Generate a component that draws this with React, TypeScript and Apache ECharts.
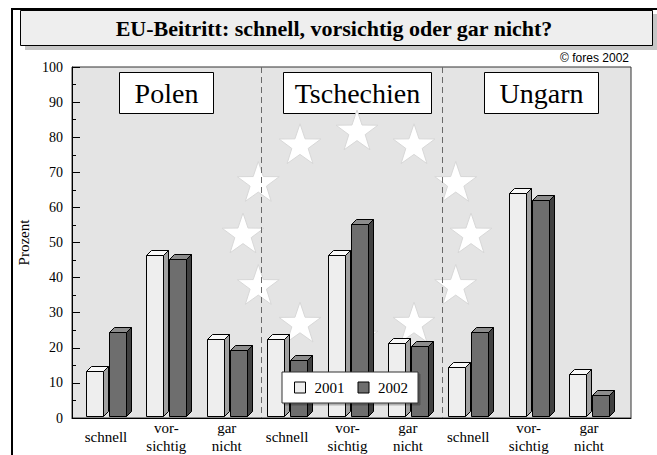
import React, { useEffect, useRef } from "react";
import * as echarts from "echarts";

// ---- data ----
const countries = ["Polen", "Tschechien", "Ungarn"];
const categories = [
  "schnell", "vor-\nsichtig", "gar\nnicht",
  "schnell", "vor-\nsichtig", "gar\nnicht",
  "schnell", "vor-\nsichtig", "gar\nnicht",
];
const seriesNames = ["2001", "2002"];
const values2001 = [13, 46, 22, 22, 46, 21, 14, 64, 12];
const values2002 = [24, 45, 19, 16, 55, 20, 24, 62, 6];
const yMin = 0;
const yMax = 100;
const yInterval = 10;
const titleText = "EU-Beitritt: schnell, vorsichtig oder gar nicht?";
const copyrightText = "© fores 2002";
const yAxisName = "Prozent";

const SERIF = '"Liberation Serif", "Times New Roman", serif';
const SANS = '"Liberation Sans", Arial, sans-serif';

function make3DBar(side: number, front: string, top: string, dark: string) {
  return (params: any, api: any) => {
    const idx = api.value(0);
    const val = api.value(1);
    const base = api.coord([idx, 0]);
    const peak = api.coord([idx, val]);
    const cx = base[0];
    const x0 = Math.round(side < 0 ? cx - 20 : cx + 3) + 0.5;
    const x1 = x0 + 17;
    const yb = Math.round(base[1]) + 0.5;
    const yt = Math.round(peak[1]) + 0.5;
    const d = 5;
    const st = { stroke: "#000", lineWidth: 1, lineJoin: "round" };
    return {
      type: "group",
      children: [
        {
          type: "polygon",
          shape: { points: [[x1, yb], [x1, yt], [x1 + d, yt - d], [x1 + d, yb - d]] },
          style: { fill: dark, ...st },
        },
        {
          type: "polygon",
          shape: { points: [[x0, yt], [x0 + d, yt - d], [x1 + d, yt - d], [x1, yt]] },
          style: { fill: top, ...st },
        },
        {
          type: "rect",
          shape: { x: x0, y: yt, width: x1 - x0, height: yb - yt },
          style: { fill: front, ...st },
        },
      ],
    };
  };
}

function starPoints(cx: number, cy: number, R: number, r: number) {
  const pts: number[][] = [];
  for (let k = 0; k < 10; k++) {
    const a = -Math.PI / 2 + (k * Math.PI) / 5;
    const rad = k % 2 === 0 ? R : r;
    pts.push([cx + rad * Math.cos(a), cy + rad * Math.sin(a)]);
  }
  return pts;
}

export default function App() {
  const ref = useRef<HTMLDivElement>(null);

  useEffect(() => {
    if (!ref.current) return;
    const chart = echarts.init(ref.current, undefined, { renderer: "svg" });

    // decorative EU star ring
    const stars: any[] = [];
    for (let k = 0; k < 12; k++) {
      const a = (k * Math.PI) / 6;
      const sx = 357 + 114 * Math.sin(a);
      const sy = 235 - 103 * Math.cos(a);
      stars.push({
        type: "polygon",
        z: 1,
        silent: true,
        shape: { points: starPoints(sx, sy, 22, 8.6) },
        style: { fill: "#ffffff", stroke: "#d8d8d8", lineWidth: 1 },
      });
    }

    const panelBoxes = [
      { x: 119, w: 94 },
      { x: 283, w: 148 },
      { x: 484, w: 114 },
    ];
    const panels: any[] = [];
    countries.forEach((c, i) => {
      const b = panelBoxes[i];
      panels.push({
        type: "rect",
        silent: true,
        shape: { x: b.x + 0.5, y: 72.5, width: b.w, height: 41 },
        style: { fill: "#ffffff", stroke: "#000", lineWidth: 1 },
      });
      panels.push({
        type: "text",
        silent: true,
        style: {
          x: b.x + b.w / 2 + 0.5,
          y: 93,
          text: c,
          fontSize: 28,
          fontFamily: SERIF,
          fill: "#000",
          align: "center",
          verticalAlign: "middle",
          textAlign: "center",
          textVerticalAlign: "middle",
        },
      });
    });

    const dashed = [261.5, 442.5].map((x) => ({
      type: "line",
      z: 1,
      silent: true,
      shape: { x1: x, y1: 67, x2: x, y2: 418 },
      style: { stroke: "#6a6a6a", lineWidth: 1, lineDash: [6, 4] },
    }));

    const option: any = {
      animation: false,
      grid: [
        {
          left: 72,
          top: 67,
          right: 26,
          bottom: 37,
          show: true,
          backgroundColor: "#e4e4e4",
          borderColor: "#333",
          borderWidth: 1,
        },
        { left: 75.8, top: 67, width: 543.4, bottom: 37 },
      ],
      xAxis: [
        {
          gridIndex: 0,
          type: "value",
          min: 0,
          max: 1,
          axisLine: { show: true, lineStyle: { color: "#000", width: 1 } },
          axisTick: { show: false },
          axisLabel: { show: false },
          splitLine: { show: false },
        },
        {
          gridIndex: 1,
          type: "category",
          data: categories,
          axisLine: { show: false },
          axisTick: { show: false },
          splitLine: { show: false },
          axisLabel: {
            interval: 0,
            fontFamily: SERIF,
            fontSize: 15,
            lineHeight: 18,
            color: "#000",
            margin: 21,
            verticalAlign: "middle",
          },
        },
      ],
      yAxis: [
        {
          gridIndex: 0,
          type: "value",
          min: yMin,
          max: yMax,
          interval: yInterval,
          name: yAxisName,
          nameLocation: "middle",
          nameGap: 33,
          nameRotate: 90,
          nameTextStyle: { fontFamily: SERIF, fontSize: 15, color: "#000" },
          axisLine: { show: true, lineStyle: { color: "#000", width: 1 } },
          axisTick: { show: true, inside: true, length: 8, lineStyle: { color: "#000" } },
          minorTick: { show: true, splitNumber: 2, length: 4, lineStyle: { color: "#000" } },
          axisLabel: { fontFamily: SERIF, fontSize: 14, color: "#000", margin: 9 },
          splitLine: { show: false },
        },
        { gridIndex: 1, type: "value", min: yMin, max: yMax, show: false },
      ],
      legend: {
        left: 282,
        top: 372,
        orient: "horizontal",
        icon: "rect",
        itemWidth: 11,
        itemHeight: 11,
        itemGap: 13,
        padding: [8, 10, 8, 12],
        backgroundColor: "#ffffff",
        borderColor: "#333",
        borderWidth: 1,
        shadowColor: "rgba(0,0,0,0.25)",
        shadowOffsetX: 2,
        shadowOffsetY: 2,
        shadowBlur: 0,
        itemStyle: { borderColor: "#000", borderWidth: 1 },
        textStyle: { fontFamily: SERIF, fontSize: 15, color: "#000", padding: [0, 0, 0, 4] },
        data: seriesNames,
      },
      graphic: [
        {
          type: "polyline",
          silent: true,
          shape: { points: [[12, 470], [12, 9], [680, 9]] },
          style: { stroke: "#000", lineWidth: 2, fill: null },
        },
        {
          type: "rect",
          silent: true,
          shape: { x: 25, y: 14, width: 632, height: 36 },
          style: { fill: "#c6c6c6" },
        },
        {
          type: "rect",
          silent: true,
          shape: { x: 20.5, y: 10.5, width: 632, height: 35 },
          style: { fill: "#eeeeee", stroke: "#000", lineWidth: 1 },
        },
        {
          type: "text",
          silent: true,
          style: {
            x: 334,
            y: 28,
            text: titleText,
            fontSize: 22,
            fontWeight: "bold",
            fontFamily: SERIF,
            fill: "#000",
            align: "center",
            verticalAlign: "middle",
            textAlign: "center",
            textVerticalAlign: "middle",
          },
        },
        {
          type: "text",
          silent: true,
          style: {
            x: 629,
            y: 58,
            text: copyrightText,
            fontSize: 12,
            fontFamily: SANS,
            fill: "#000",
            align: "right",
            verticalAlign: "middle",
            textAlign: "right",
            textVerticalAlign: "middle",
          },
        },
        ...stars,
        ...dashed,
        ...panels,
      ],
      series: [
        {
          type: "custom",
          name: seriesNames[0],
          xAxisIndex: 1,
          yAxisIndex: 1,
          renderItem: make3DBar(-1, "#eeeeee", "#f9f9f9", "#a0a0a0"),
          encode: { x: 0, y: 1 },
          itemStyle: { color: "#eeeeee", borderColor: "#000", borderWidth: 1 },
          data: values2001.map((v, i) => [i, v]),
        },
        {
          type: "custom",
          name: seriesNames[1],
          xAxisIndex: 1,
          yAxisIndex: 1,
          renderItem: make3DBar(1, "#6e6e6e", "#8c8c8c", "#404040"),
          encode: { x: 0, y: 1 },
          itemStyle: { color: "#6e6e6e", borderColor: "#000", borderWidth: 1 },
          data: values2002.map((v, i) => [i, v]),
        },
      ],
    };

    chart.setOption(option);
    return () => chart.dispose();
  }, []);

  return (
    <div
      ref={ref}
      style={{ position: "absolute", left: 0, top: 0, width: 657, height: 455, background: "#fff" }}
    />
  );
}
